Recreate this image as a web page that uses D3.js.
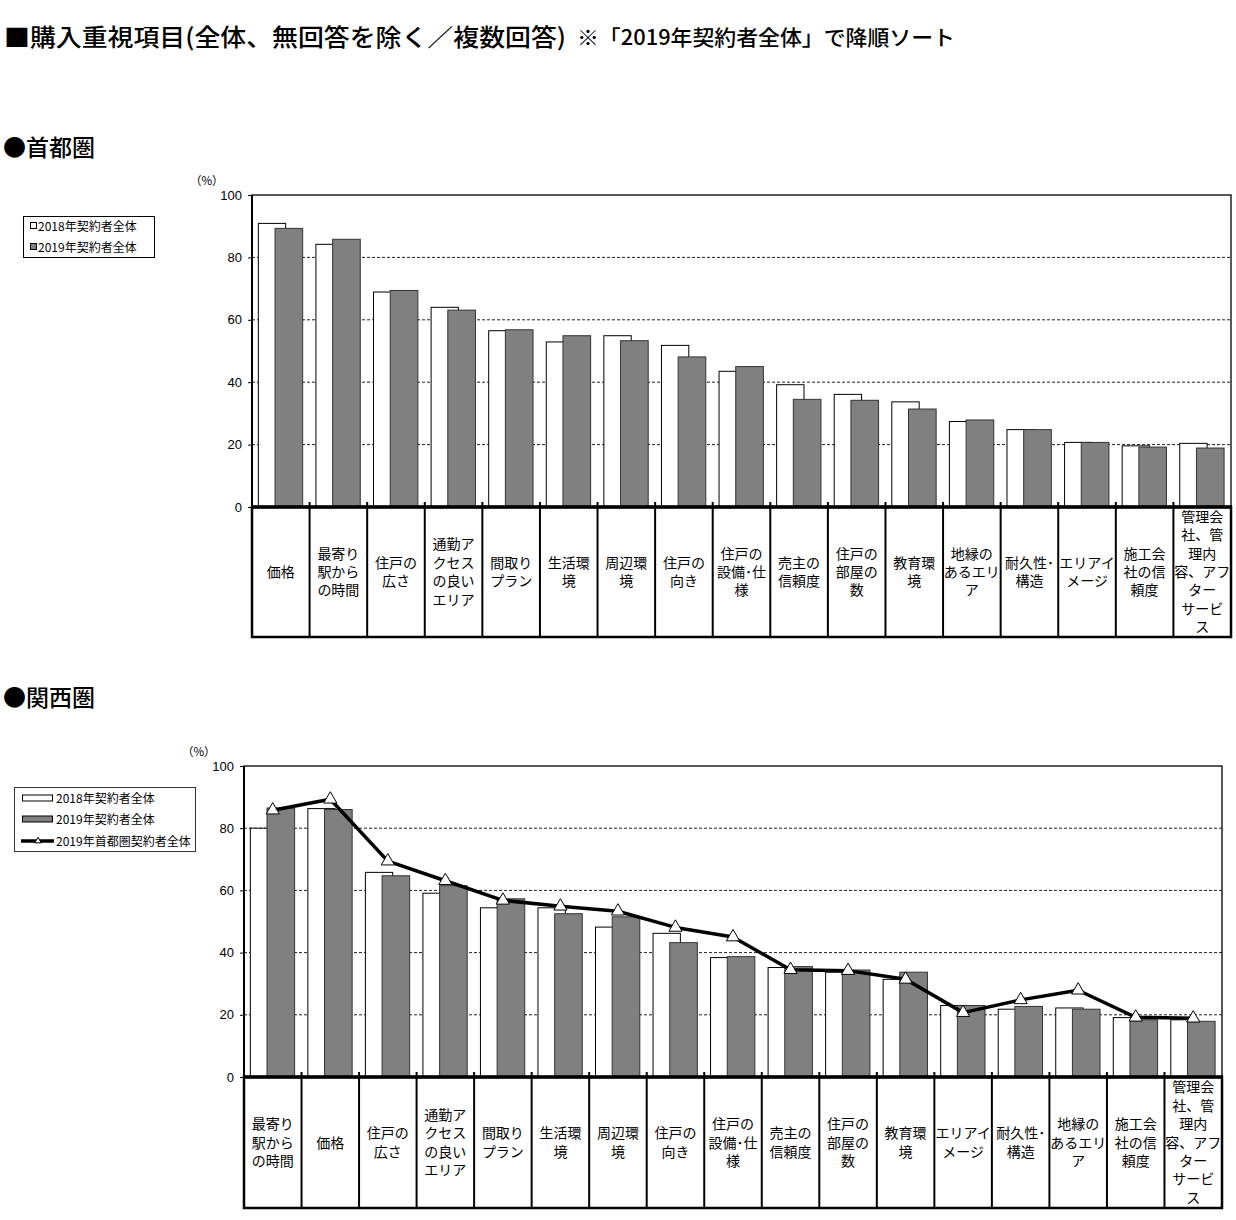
<!DOCTYPE html>
<html>
<head>
<meta charset="utf-8">
<script src="https://cdn.jsdelivr.net/npm/d3@7"></script>
<style>
  body { margin: 0; background: #fff; }
  text { font-family: "Noto Sans CJK JP", "Noto Sans", sans-serif; fill: #000; }
</style>
</head>
<body>
<script>
// 首都圏（2019年契約者全体で降順）
var shutoCategories = ["価格", "最寄り\n駅から\nの時間", "住戸の\n広さ", "通勤ア\nクセス\nの良い\nエリア", "間取り\nプラン",
  "生活環\n境", "周辺環\n境", "住戸の\n向き", "住戸の\n設備･仕\n様", "売主の\n信頼度", "住戸の\n部屋の\n数", "教育環\n境",
  "地縁の\nあるエリ\nア", "耐久性･\n構造", "エリアイ\nメージ", "施工会\n社の信\n頼度", "管理会\n社、管\n理内\n容、アフ\nター\nサービ\nス"];
var shuto2018 = [90.9, 84.2, 68.9, 64.0, 56.5, 52.9, 54.9, 51.8, 43.5, 39.2, 36.1, 33.7, 27.4, 24.8, 20.7, 19.6, 20.4];
var shuto2019 = [89.3, 85.8, 69.4, 63.1, 56.8, 54.9, 53.3, 48.1, 45.0, 34.5, 34.2, 31.4, 27.9, 24.8, 20.7, 19.2, 18.9];

// 関西圏
var kansaiCategories = ["最寄り\n駅から\nの時間", "価格", "住戸の\n広さ", "通勤ア\nクセス\nの良い\nエリア", "間取り\nプラン",
  "生活環\n境", "周辺環\n境", "住戸の\n向き", "住戸の\n設備･仕\n様", "売主の\n信頼度", "住戸の\n部屋の\n数", "教育環\n境",
  "エリアイ\nメージ", "耐久性･\n構造", "地縁の\nあるエリ\nア", "施工会\n社の信\n頼度", "管理会\n社、管\n理内\n容、アフ\nター\nサービ\nス"];
var kansai2018 = [80.0, 86.3, 65.8, 59.1, 54.4, 54.4, 48.2, 46.2, 38.4, 35.2, 33.7, 31.4, 23.0, 21.8, 22.2, 19.1, 18.4];
var kansai2019 = [86.5, 86.0, 64.7, 61.5, 57.3, 52.5, 51.5, 43.2, 38.7, 35.5, 34.4, 33.7, 23.0, 22.7, 21.8, 18.4, 17.9];
var kansaiShuto2019 = [85.8, 89.3, 69.4, 63.1, 56.8, 54.9, 53.3, 48.1, 45.0, 34.5, 34.2, 31.4, 20.7, 24.8, 27.9, 19.2, 18.9];

var yTicks = [0, 20, 40, 60, 80, 100];
var legendNames = ["2018年契約者全体", "2019年契約者全体", "2019年首都圏契約者全体"];

var svg = d3.select("body").append("svg")
    .attr("width", 1236)
    .attr("height", 1220);

svg.append("rect").attr("width", 1236).attr("height", 1220).attr("fill", "#fff");

// タイトル
svg.append("text")
    .attr("x", 4).attr("y", 46)
    .attr("font-size", 24).attr("font-weight", 500)
    .attr("textLength", 562).attr("lengthAdjust", "spacingAndGlyphs")
    .text("■購入重視項目(全体、無回答を除く／複数回答)");
svg.append("text")
    .attr("x", 577).attr("y", 45)
    .attr("font-size", 21).attr("font-weight", 500)
    .attr("textLength", 378).attr("lengthAdjust", "spacingAndGlyphs")
    .text("※「2019年契約者全体」で降順ソート");

svg.append("text").attr("x", 3).attr("y", 156)
    .attr("font-size", 23).attr("font-weight", 500).text("●首都圏");
svg.append("text").attr("x", 3).attr("y", 706)
    .attr("font-size", 23).attr("font-weight", 500).text("●関西圏");

drawChart({
  left: 252, right: 1231, top: 195, base: 507, boxBottom: 637,
  categories: shutoCategories, s2018: shuto2018, s2019: shuto2019, line: null
});

drawChart({
  left: 244, right: 1222, top: 766, base: 1077, boxBottom: 1208,
  categories: kansaiCategories, s2018: kansai2018, s2019: kansai2019, line: kansaiShuto2019
});

// 凡例（首都圏）
var leg1 = svg.append("g");
leg1.append("rect").attr("x", 23.5).attr("y", 216.5).attr("width", 131).attr("height", 41)
    .attr("fill", "#fff").attr("stroke", "#000").attr("stroke-width", 1);
[0, 1].forEach(function(k) {
  var yy = 226 + k * 21;
  leg1.append("rect").attr("x", 30.5).attr("y", yy - 3.5).attr("width", 6).attr("height", 6)
      .attr("fill", k ? "#808080" : "#fff").attr("stroke", "#000").attr("stroke-width", 1);
  leg1.append("text").attr("x", 38).attr("y", yy + 4.5).attr("font-size", 12).text(legendNames[k]);
});

// 凡例（関西圏）
var leg2 = svg.append("g");
leg2.append("rect").attr("x", 14.5).attr("y", 787.5).attr("width", 181).attr("height", 64)
    .attr("fill", "#fff").attr("stroke", "#333").attr("stroke-width", 1);
[0, 1].forEach(function(k) {
  var yy = 798 + k * 21;
  leg2.append("rect").attr("x", 22.5).attr("y", yy - 3).attr("width", 30).attr("height", 6)
      .attr("fill", k ? "#808080" : "#fff").attr("stroke", "#000").attr("stroke-width", 1);
  leg2.append("text").attr("x", 56).attr("y", yy + 4.5).attr("font-size", 12).text(legendNames[k]);
});
leg2.append("line").attr("x1", 21).attr("x2", 54).attr("y1", 841).attr("y2", 841)
    .attr("stroke", "#000").attr("stroke-width", 3.5);
leg2.append("path").attr("d", d3.symbol(d3.symbolTriangle).size(18)())
    .attr("transform", "translate(38,841)")
    .attr("fill", "#fff").attr("stroke", "#000").attr("stroke-width", 1);
leg2.append("text").attr("x", 56).attr("y", 845.5).attr("font-size", 12).text(legendNames[2]);

function drawChart(o) {
  var g = svg.append("g");
  var n = o.categories.length;

  var x = d3.scaleBand().domain(d3.range(n)).range([o.left, o.right]).padding(0);
  var y = d3.scaleLinear().domain([0, 100]).range([o.base, o.top]);
  var bw = x.bandwidth();

  // 補助線
  g.selectAll("line.grid")
    .data(yTicks.filter(function(t) { return t > 0 && t < 100; }))
    .enter().append("line")
      .attr("class", "grid")
      .attr("x1", o.left).attr("x2", o.right)
      .attr("y1", function(d) { return y(d); })
      .attr("y2", function(d) { return y(d); })
      .attr("stroke", "#222").attr("stroke-width", 1)
      .attr("stroke-dasharray", "3,2");

  g.append("rect")
    .attr("x", o.left).attr("y", o.top)
    .attr("width", o.right - o.left).attr("height", o.base - o.top)
    .attr("fill", "none").attr("stroke", "#000").attr("stroke-width", 1.3);

  // 2018年（白）
  g.selectAll("rect.b18")
    .data(o.s2018)
    .enter().append("rect")
      .attr("class", "b18")
      .attr("x", function(d, i) { return x(i) + bw * 0.11; })
      .attr("width", bw * 0.475)
      .attr("y", function(d) { return y(d); })
      .attr("height", function(d) { return o.base - y(d); })
      .attr("fill", "#fff").attr("stroke", "#000").attr("stroke-width", 1);

  // 2019年（灰）
  g.selectAll("rect.b19")
    .data(o.s2019)
    .enter().append("rect")
      .attr("class", "b19")
      .attr("x", function(d, i) { return x(i) + bw * 0.40; })
      .attr("width", bw * 0.48)
      .attr("y", function(d) { return y(d); })
      .attr("height", function(d) { return o.base - y(d); })
      .attr("fill", "#808080").attr("stroke", "#333").attr("stroke-width", 1);

  // y軸
  var yAxis = g.append("g")
    .attr("transform", "translate(" + o.left + ",0)")
    .call(d3.axisLeft(y).tickValues(yTicks).tickSize(4).tickPadding(6));
  yAxis.select(".domain").remove();
  yAxis.selectAll("text")
    .attr("font-size", 13).attr("fill", "#000")
    .style("font-family", "'Liberation Sans Narrow', 'Liberation Sans', sans-serif");
  yAxis.selectAll("line").attr("stroke", "#000");
  g.append("line")
    .attr("x1", o.left).attr("x2", o.left).attr("y1", o.top).attr("y2", o.base)
    .attr("stroke", "#000").attr("stroke-width", 2);

  g.append("text")
    .attr("x", o.left - 62).attr("y", o.top - 10)
    .attr("font-size", 11.5).text("（%）");

  // 区切り目盛
  g.selectAll("line.sep")
    .data(d3.range(1, n))
    .enter().append("line")
      .attr("class", "sep")
      .attr("x1", function(i) { return x(i); })
      .attr("x2", function(i) { return x(i); })
      .attr("y1", o.base - 5).attr("y2", o.boxBottom)
      .attr("stroke", "#000").attr("stroke-width", 2);

  // 項目ラベル枠
  g.append("rect")
    .attr("x", o.left).attr("y", o.base)
    .attr("width", o.right - o.left).attr("height", o.boxBottom - o.base)
    .attr("fill", "none").attr("stroke", "#000").attr("stroke-width", 2.5);
  g.append("line")
    .attr("x1", o.left - 1).attr("x2", o.right + 1).attr("y1", o.base).attr("y2", o.base)
    .attr("stroke", "#000").attr("stroke-width", 3.5);

  var mid = (o.base + o.boxBottom) / 2;
  var lh = 18.4;
  var labels = g.selectAll("text.cat")
    .data(o.categories)
    .enter().append("text")
      .attr("class", "cat")
      .attr("text-anchor", "middle")
      .attr("font-size", 14);
  labels.each(function(d, i) {
    var lines = d.split("\n");
    var t = d3.select(this);
    lines.forEach(function(s, k) {
      t.append("tspan")
        .attr("x", x(i) + bw / 2)
        .attr("y", mid + (k - (lines.length - 1) / 2) * lh + 5)
        .text(s);
    });
  });

  // 首都圏の折れ線
  if (o.line) {
    var line = d3.line()
      .x(function(d, i) { return x(i) + bw / 2; })
      .y(function(d) { return y(d); });
    g.append("path")
      .datum(o.line)
      .attr("d", line)
      .attr("fill", "none").attr("stroke", "#000").attr("stroke-width", 3.5)
      .attr("stroke-linejoin", "round");
    g.selectAll("path.mk")
      .data(o.line)
      .enter().append("path")
        .attr("class", "mk")
        .attr("d", d3.symbol(d3.symbolTriangle).size(75))
        .attr("transform", function(d, i) { return "translate(" + (x(i) + bw / 2) + "," + y(d) + ")"; })
        .attr("fill", "#fff").attr("stroke", "#000").attr("stroke-width", 1);
  }
}
</script>
</body>
</html>
